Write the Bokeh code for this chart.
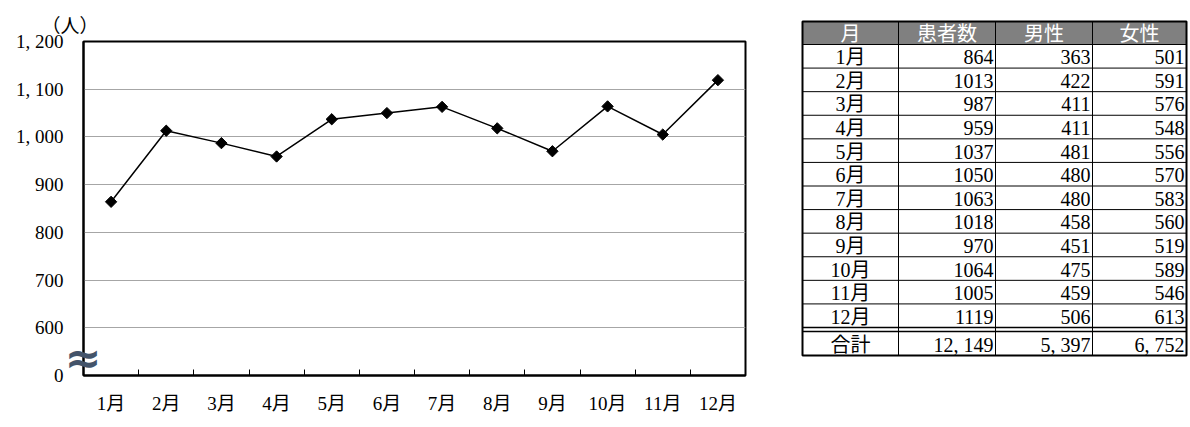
from bokeh.plotting import figure
from bokeh.layouts import row
from bokeh.models import Range1d, FixedTicker, LinearAxis, ColumnDataSource
from bokeh.core.properties import value
from bokeh.embed import file_html
from bokeh.resources import INLINE

# ---------------- data ----------------
months = ["1月", "2月", "3月", "4月", "5月", "6月", "7月", "8月", "9月", "10月", "11月", "12月"]
patients = [864, 1013, 987, 959, 1037, 1050, 1063, 1018, 970, 1064, 1005, 1119]
male = [363, 422, 411, 411, 481, 480, 480, 458, 451, 475, 459, 506]
female = [501, 591, 576, 548, 556, 570, 583, 560, 519, 589, 546, 613]
table_header = ["月", "患者数", "男性", "女性"]
total_label = "合計"
y_ticks = [500, 600, 700, 800, 900, 1000, 1100, 1200]
y_tick_labels = ["0", "600", "700", "800", "900", "1, 000", "1, 100", "1, 200"]
unit_label = "（人）"
break_value = 538
break_mark = "≈"

FONT = "Liberation Serif, Noto Sans CJK JP"

# ---------------- chart ----------------
xs = [i + 0.5 for i in range(len(months))]
p = figure(frame_width=662, frame_height=334, output_backend="svg", toolbar_location=None,
           x_range=Range1d(0, len(months)), y_range=Range1d(500, 1200),
           min_border_left=83, min_border_right=45, min_border_top=41, min_border_bottom=52,
           frame_align=False)
p.background_fill_color = "white"
p.border_fill_color = "white"
p.outline_line_color = "black"
p.outline_line_width = 2

p.title.text = unit_label
p.title.align = "left"
p.title.offset = -42
p.title.standoff = 10
p.title.text_font = FONT
p.title.text_font_style = "normal"
p.title.text_font_size = "19px"
p.title.text_color = "black"

p.xgrid.visible = False
p.ygrid.ticker = FixedTicker(ticks=y_ticks[1:-1])
p.ygrid.grid_line_color = "#a6a6a6"
p.ygrid.grid_line_width = 1

p.xaxis.ticker = FixedTicker(ticks=xs, minor_ticks=list(range(1, len(months))))
p.xaxis.major_label_overrides = {x: m for x, m in zip(xs, months)}
p.xaxis.major_tick_line_color = None
p.xaxis.minor_tick_in = 6
p.xaxis.minor_tick_out = 0
p.xaxis.minor_tick_line_color = "black"
p.xaxis.minor_tick_line_width = 1
p.xaxis.axis_line_color = "black"
p.xaxis.axis_line_width = 2
p.xaxis.major_label_standoff = 11
p.xaxis.major_label_text_font = FONT
p.xaxis.major_label_text_font_size = "19px"
p.xaxis.major_label_text_color = "black"

p.yaxis.ticker = FixedTicker(ticks=y_ticks)
p.yaxis.major_label_overrides = {t: s for t, s in zip(y_ticks, y_tick_labels)}
p.yaxis.major_tick_in = 0
p.yaxis.major_tick_out = 0
p.yaxis.minor_tick_line_color = None
p.yaxis.axis_line_color = "black"
p.yaxis.axis_line_width = 2
p.yaxis.major_label_standoff = 20
p.yaxis.major_label_text_font = FONT
p.yaxis.major_label_text_font_size = "19px"
p.yaxis.major_label_text_color = "black"

# axis-break mark drawn as the single label of an extra (line-less) axis
brk = LinearAxis(ticker=FixedTicker(ticks=[break_value]),
                 major_label_overrides={break_value: break_mark},
                 axis_line_color=None, major_tick_line_color=None, minor_tick_line_color=None,
                 major_label_standoff=-95, major_label_text_font="DejaVu Sans",
                 major_label_text_font_style="bold", major_label_text_font_size="44px",
                 major_label_text_color="#44546A")
p.add_layout(brk, "left")

src = ColumnDataSource(dict(x=xs, y=patients))
p.line("x", "y", source=src, line_color="black", line_width=1.5)
p.scatter("x", "y", source=src, marker="square", angle=0.785398, size=8,
          fill_color="black", line_color="black")

# ---------------- table ----------------
T_LEFT, T_RIGHT = 790, 1190
T_TOP, T_BOTTOM = 0, 427
t = figure(width=T_RIGHT - T_LEFT, height=T_BOTTOM - T_TOP, output_backend="svg", toolbar_location=None,
           x_range=Range1d(T_LEFT, T_RIGHT), y_range=Range1d(T_BOTTOM, T_TOP),
           x_axis_location=None, y_axis_location=None, min_border=0, frame_align=False)
t.grid.visible = False
t.outline_line_color = None
t.background_fill_color = "white"
t.border_fill_color = "white"

col_edges = [802, 898, 995, 1092, 1186]
head_top, head_bot = 21, 44
row_h = (327 - 44) / len(months)
row_edges = [head_bot + i * row_h for i in range(len(months) + 1)]
tot_top, tot_bot = 331, 355

t.quad(left=[col_edges[0]], right=[col_edges[-1]], top=[head_top], bottom=[head_bot],
       fill_color="#808080", line_color=None)

hy = row_edges[:-1]
t.segment(x0=[col_edges[0]] * len(hy), x1=[col_edges[-1]] * len(hy), y0=hy, y1=hy,
          line_color="black", line_width=1)
t.segment(x0=[col_edges[0]] * 2, x1=[col_edges[-1]] * 2, y0=[row_edges[-1], tot_top],
          y1=[row_edges[-1], tot_top], line_color="black", line_width=1.5)
vx = col_edges[1:-1]
t.segment(x0=vx, x1=vx, y0=[head_top] * len(vx), y1=[tot_bot] * len(vx),
          line_color="black", line_width=1)
t.quad(left=[col_edges[0]], right=[col_edges[-1]], top=[head_top], bottom=[tot_bot],
       fill_color=None, line_color="black", line_width=2)

hx = [(col_edges[i] + col_edges[i + 1]) / 2 for i in range(4)]
t.text(x=hx, y=[(head_top + head_bot) / 2 + 1] * 4, text=table_header, text_align="center",
       text_baseline="middle", text_font=value(FONT), text_font_size="20px", text_color="white")

def fmt(v):
    return "{:,}".format(v).replace(",", ", ")

row_cy = [(row_edges[i] + row_edges[i + 1]) / 2 + 1 for i in range(len(months))]
tot_cy = (tot_top + tot_bot) / 2 + 1
all_cy = row_cy + [tot_cy]
first_col = months + [total_label]
t.text(x=[hx[0]] * len(all_cy), y=all_cy, text=first_col, text_align="center",
       text_baseline="middle", text_font=value(FONT), text_font_size="20px", text_color="black")
for ci, series in enumerate([patients, male, female]):
    vals = [str(v) for v in series] + [fmt(sum(series))]
    t.text(x=[col_edges[ci + 2] - 2] * len(vals), y=all_cy, text=vals, text_align="right",
           text_baseline="middle", text_font=value(FONT), text_font_size="20px", text_color="black")

layout = row(p, t)
open("out.html", "w").write(file_html(layout, INLINE))
